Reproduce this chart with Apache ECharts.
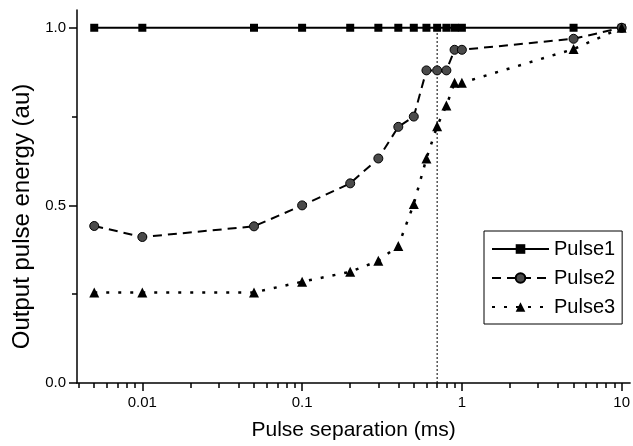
<!DOCTYPE html>
<html>
<head>
<meta charset="utf-8">
<script src="https://cdn.jsdelivr.net/npm/echarts@6/dist/echarts.min.js"></script>
<style>html,body{margin:0;padding:0;background:#fff;}#c{width:633px;height:446px;}</style>
</head>
<body>
<div id="c"></div>
<script>
// Pulse separation (ms)
const separations = [0.005, 0.01, 0.05, 0.1, 0.2, 0.3, 0.4, 0.5, 0.6, 0.7, 0.8, 0.9, 1.0, 5, 10];
const pulse1 = [1, 1, 1, 1, 1, 1, 1, 1, 1, 1, 1, 1, 1, 1, 1];
const pulse2 = [0.442, 0.411, 0.441, 0.50, 0.562, 0.632, 0.721, 0.75, 0.88, 0.88, 0.88, 0.938, 0.938, 0.969, 1.0];
const pulse3 = [0.255, 0.255, 0.255, 0.285, 0.313, 0.344, 0.386, 0.504, 0.632, 0.723, 0.781, 0.845, 0.845, 0.94, 1.0];
const markerLineX = [0.7, 0.7];
const markerLineY = [0, 1.0];
const xMajorTicks = [0.01, 0.1, 1, 10];
const xMinorTicks = [0.004, 0.005, 0.006, 0.007, 0.008, 0.009,
  0.02, 0.03, 0.04, 0.05, 0.06, 0.07, 0.08, 0.09,
  0.2, 0.3, 0.4, 0.5, 0.6, 0.7, 0.8, 0.9,
  2, 3, 4, 5, 6, 7, 8, 9];
const yMajorTicks = [0, 0.5, 1.0];
const yMinorTicks = [0.25, 0.75];

const FONT = 'Liberation Sans, Arial, sans-serif';
const zip = (xs, ys) => xs.map((x, i) => [x, ys[i]]);
const X_MIN = 0.0039, X_MAX = 11.3, Y_MIN = 0, Y_MAX = 1.05;

const chart = echarts.init(document.getElementById('c'), null, {renderer: 'canvas'});
chart.setOption({
  backgroundColor: '#fff',
  animation: false,
  grid: {left: 77, right: 1, top: 10, bottom: 61, containLabel: false},
  legend: {
    data: ['Pulse1', 'Pulse2', 'Pulse3'],
    orient: 'vertical',
    left: 484, top: 231,
    padding: [8, 7, 7, 7],
    itemWidth: 57, itemHeight: 12, itemGap: 9,
    borderColor: '#000', borderWidth: 1,
    backgroundColor: '#fff',
    textStyle: {fontFamily: FONT, fontSize: 20, color: '#000'}
  },
  xAxis: [{
    type: 'log', logBase: 10, min: X_MIN, max: X_MAX,
    name: 'Pulse separation (ms)', nameLocation: 'middle', nameGap: 37,
    nameTextStyle: {fontFamily: FONT, fontSize: 21, color: '#000'},
    axisLine: {show: true, lineStyle: {color: '#000', width: 1.5}},
    axisTick: {show: true, length: 8, inside: false, customValues: xMajorTicks, lineStyle: {color: '#000', width: 1.5}},
    axisLabel: {customValues: xMajorTicks, fontFamily: FONT, fontSize: 15, color: '#000', margin: 12,
      formatter: v => String(v)},
    splitLine: {show: false}, minorTick: {show: false}
  }, {
    type: 'log', logBase: 10, min: X_MIN, max: X_MAX, position: 'bottom',
    axisLine: {show: false},
    axisTick: {show: true, length: 5, customValues: xMinorTicks, lineStyle: {color: '#000', width: 1.5}},
    axisLabel: {show: false}, splitLine: {show: false}
  }],
  yAxis: [{
    type: 'value', min: Y_MIN, max: Y_MAX,
    name: 'Output pulse energy (au)', nameLocation: 'middle', nameGap: 42,
    nameTextStyle: {fontFamily: FONT, fontSize: 24, color: '#000', padding: [0, 40, 0, 0]},
    axisLine: {show: true, lineStyle: {color: '#000', width: 1.5}},
    axisTick: {show: true, length: 8, customValues: yMajorTicks, lineStyle: {color: '#000', width: 1.5}},
    axisLabel: {customValues: yMajorTicks, fontFamily: FONT, fontSize: 15, color: '#000', margin: 11,
      formatter: v => v.toFixed(1)},
    splitLine: {show: false}
  }, {
    type: 'value', min: Y_MIN, max: Y_MAX, position: 'left',
    axisLine: {show: false},
    axisTick: {show: true, length: 5, customValues: yMinorTicks, lineStyle: {color: '#000', width: 1.5}},
    axisLabel: {show: false}, splitLine: {show: false}
  }],
  series: [
    {
      name: 'Pulse1', type: 'line', data: zip(separations, pulse1),
      symbol: 'rect', symbolSize: 8,
      itemStyle: {color: '#000'},
      lineStyle: {color: '#000', width: 2, type: 'solid'},
      z: 3
    },
    {
      name: 'Pulse2', type: 'line', data: zip(separations, pulse2),
      symbol: 'circle', symbolSize: 9,
      itemStyle: {color: '#4a4a4a', borderColor: '#000', borderWidth: 1},
      lineStyle: {color: '#000', width: 2, type: [9, 6]},
      z: 3
    },
    {
      name: 'Pulse3', type: 'line', data: zip(separations, pulse3),
      symbol: 'triangle', symbolSize: 10,
      itemStyle: {color: '#000'},
      lineStyle: {color: '#000', width: 2.5, type: [3, 9]},
      z: 3
    },
    {
      name: 'marker', type: 'line', data: zip(markerLineX, markerLineY),
      symbol: 'none', silent: true,
      lineStyle: {color: '#000', width: 1, type: [2, 2]},
      z: 2
    }
  ]
});
</script>
</body>
</html>
